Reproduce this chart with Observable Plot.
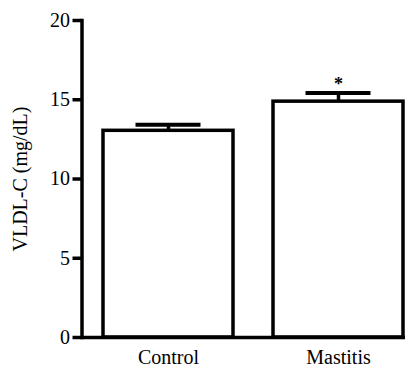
<!DOCTYPE html>
<html><head><meta charset="utf-8">
<script src="https://cdn.jsdelivr.net/npm/d3@7"></script>
<script src="https://cdn.jsdelivr.net/npm/@observablehq/plot@0.6"></script>
<style>
body{margin:0;background:#fff}
svg, svg text, svg g { font-family: "Liberation Serif", "DejaVu Serif" !important; }
</style>
</head><body><div id="chart"></div>
<script>
const categories = ["Control", "Mastitis"];
const means = [13.04, 14.88];
const errors = [0.38, 0.55];
const significance = ["", "*"];
const yTicks = [0, 5, 10, 15, 20];
const yLabel = "VLDL-C (mg/dL)";

const data = categories.map((c, i) => ({group: c, mean: means[i], upper: means[i] + errors[i], sig: significance[i]}));

const chart = Plot.plot({
  width: 420, height: 368,
  marginLeft: 81.5, marginRight: 15, marginTop: 20, marginBottom: 31,
  style: {fontFamily: "Liberation Serif", fontSize: "20px", color: "#000", background: "#fff"},
  x: {domain: categories, range: [102, 403.5], paddingInner: 0.234, paddingOuter: 0, axis: null},
  y: {domain: [0, 20], axis: null},
  marks: [
    Plot.barY(data, {x: "group", y: "mean", fill: "white", stroke: "black", strokeWidth: 3.5}),
    Plot.ruleX(data, {x: "group", y1: "mean", y2: "upper", stroke: "black", strokeWidth: 3.5}),
    Plot.tickY(data, {x: "group", y: "upper", stroke: "black", strokeWidth: 4, insetLeft: 32.5, insetRight: 32.5}),
    Plot.text(data, {x: "group", y: "upper", text: "sig", fontSize: 18, fontWeight: "bold", dy: -8.5, fill: "black", fontFamily: "Liberation Serif"}),
    Plot.ruleY([0], {stroke: "black", strokeWidth: 3.5}),
    Plot.frame({anchor: "left", stroke: "black", strokeWidth: 3.5}),
    Plot.axisY({ticks: yTicks, tickSize: 9, tickPadding: 3, strokeWidth: 3.5, label: yLabel, labelAnchor: "center", labelArrow: "none", labelOffset: 69, fontFamily: "Liberation Serif"}),
    Plot.axisX({tickSize: 0, tickPadding: 12, label: null, fontFamily: "Liberation Serif"})
  ]
});
document.getElementById("chart").appendChild(chart);
</script>
</body></html>
